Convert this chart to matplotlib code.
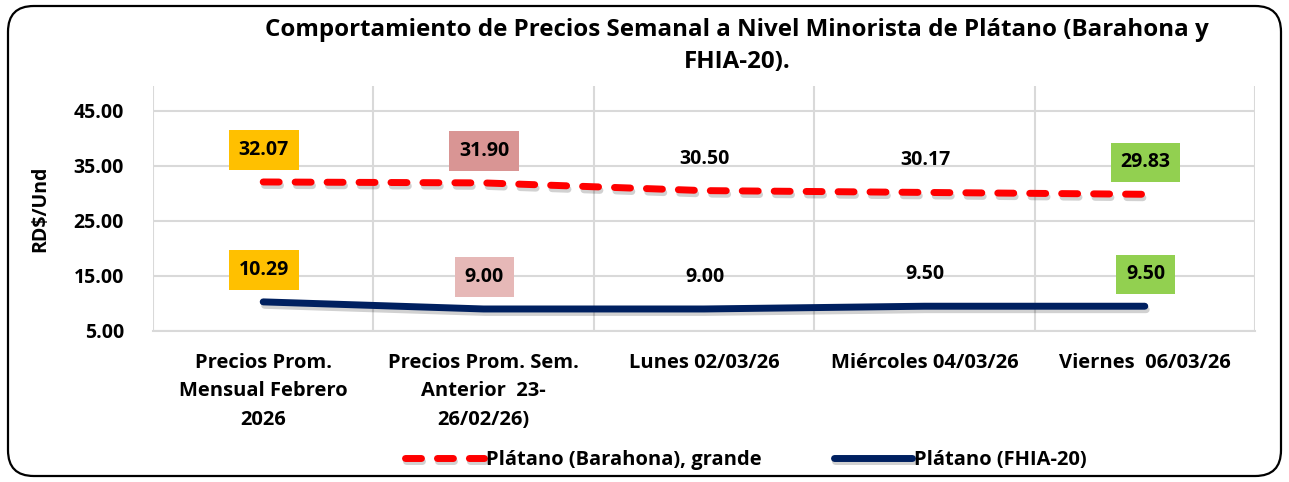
import matplotlib

matplotlib.use("Agg")
import matplotlib.pyplot as plt
import matplotlib.patheffects as pe
from matplotlib.patches import FancyBboxPatch

categories = [
    "Precios Prom.\nMensual Febrero\n2026",
    "Precios Prom. Sem.\nAnterior  23-\n26/02/26)",
    "Lunes 02/03/26",
    "Miércoles 04/03/26",
    "Viernes  06/03/26",
]
barahona = [32.07, 31.90, 30.50, 30.17, 29.83]
fhia = [10.29, 9.00, 9.00, 9.50, 9.50]
barahona_labels = ["32.07", "31.90", "30.50", "30.17", "29.83"]
fhia_labels = ["10.29", "9.00", "9.00", "9.50", "9.50"]
barahona_box = ["#FFC000", "#D99594", None, None, "#92D050"]
fhia_box = ["#FFC000", "#E6B8B7", None, None, "#92D050"]
yticks = [5, 15, 25, 35, 45]

plt.rcParams["font.family"] = ["Open Sans", "DejaVu Sans"]
plt.rcParams["font.weight"] = "bold"

fig = plt.figure(figsize=(12.89, 4.82), dpi=100)
ax = fig.add_axes([153 / 1289, 1 - 331 / 482, (1255 - 153) / 1289, (331 - 86) / 482])

# rounded outer frame
frame = FancyBboxPatch((8 / 1289, 6 / 482), 1273 / 1289, 470 / 482,
                       boxstyle="round,pad=0,rounding_size=0.02",
                       transform=fig.transFigure, facecolor="none",
                       edgecolor="black", linewidth=1.6, mutation_aspect=1289 / 482)
fig.patches.append(frame)

x = list(range(len(categories)))
shadow = [pe.SimpleLineShadow(offset=(1, -2.5), shadow_color="black", alpha=0.18), pe.Normal()]
ax.plot(x, barahona, color="#FF0000", linewidth=5, linestyle=(0, (2.3, 2.3)),
        dash_capstyle="round", solid_capstyle="round", label="Plátano (Barahona), grande",
        path_effects=shadow, zorder=3)
ax.plot(x, fhia, color="#002060", linewidth=5, solid_capstyle="round",
        label="Plátano (FHIA-20)", path_effects=shadow, zorder=3)

for series, labels, boxes in ((barahona, barahona_labels, barahona_box), (fhia, fhia_labels, fhia_box)):
    for xi, yi, lab, col in zip(x, series, labels, boxes):
        bbox = None
        if col is not None:
            bbox = dict(boxstyle="square,pad=0.5", facecolor=col, edgecolor="none")
        ax.annotate(lab, (xi, yi), xytext=(0.5, 23), textcoords="offset points",
                    ha="center", va="center", fontsize=14, fontweight="bold",
                    bbox=bbox, zorder=4)

ax.set_xlim(-0.5, len(categories) - 0.5)
ax.set_ylim(5, 49.5)
ax.set_yticks(yticks)
ax.set_yticklabels([f"{v:.2f}" for v in yticks], fontsize=14, fontweight="bold")
ax.set_xticks([i - 0.5 for i in range(len(categories) + 1)], minor=False)
ax.set_xticklabels([])
ax.set_xticks(x, minor=True)
ax.set_xticklabels(categories, minor=True, fontsize=14.5, fontweight="bold", linespacing=1.55)
ax.tick_params(axis="both", which="both", length=0)
ax.tick_params(axis="x", which="minor", pad=16)
ax.tick_params(axis="y", pad=21)
ax.grid(True, which="major", color="#D9D9D9", linewidth=1.5)
for side in ("top", "right", "left"):
    ax.spines[side].set_visible(False)
ax.spines["bottom"].set_color("#D9D9D9")
ax.spines["bottom"].set_linewidth(1.5)
ax.set_axisbelow(True)

ax.set_ylabel("RD$/Und", fontsize=14, fontweight="bold")
ax.yaxis.set_label_coords(-103 / 1102, 0.5)

fig.text(737 / 1289, 1 - 46 / 482,
         "Comportamiento de Precios Semanal a Nivel Minorista de Plátano (Barahona y\nFHIA-20).",
         ha="center", va="center", fontsize=17.4, fontweight="bold", linespacing=1.45)

fig.legend(loc="center", bbox_to_anchor=(746 / 1289, 1 - 460 / 482), ncol=2, frameon=False,
           fontsize=14.5, handlelength=3.9, handletextpad=0.1, columnspacing=3.6)

fig.savefig("out.png", dpi=100)
